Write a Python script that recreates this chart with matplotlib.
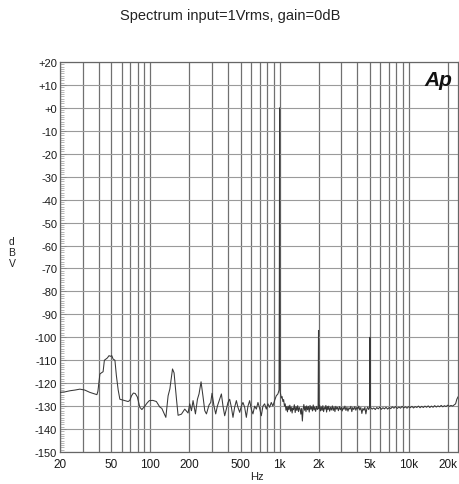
import matplotlib
matplotlib.use("Agg")
import matplotlib.pyplot as plt
from matplotlib.ticker import FixedLocator, NullFormatter, NullLocator

plt.rcParams['font.family'] = ['Liberation Sans', 'DejaVu Sans']

# ---- data ----
freq_low = [20, 21.8, 23.9, 26.1, 28.5, 31.1, 34, 37.1, 38.6, 39.3, 40.7, 41.8, 43.1, 44.1,
            45.3, 46.5, 47.9, 49.1, 50.3, 51.5, 53.2, 54.6, 56.4, 58.1, 62.4, 67.3, 69.4,
            71.5, 73.9, 76.4, 79.3, 82.9, 86, 90.6, 94.8, 98.2, 104.5, 111.3, 118.4, 122.7,
            131.8, 137.2, 141.6, 148.4, 152.6, 159.3, 163.9, 174, 184.6, 195.8, 201.8, 208,
            214, 223.3, 231.4, 238, 246.8, 255.8, 263.7, 271.6, 284.4, 293.2, 300, 310.8,
            320.4, 330, 344, 354.6, 364.8, 376, 387.6, 398.8, 410.8, 423.6, 435.8, 449, 463,
            476, 491, 506, 520.6, 536.6, 553, 569, 586.6, 604.6, 622, 641, 660.8, 680, 700.8,
            722, 743, 765.6, 789, 812, 837, 862, 887, 914.6, 942.6, 970, 990]
dbv_low = [-124, -123.8, -123.3, -123, -122.6, -123, -124, -124.7, -125, -123.5, -116, -115.5,
           -115, -110, -109.5, -109, -108, -108.3, -108, -109.5, -110, -116.7, -123, -127,
           -127.5, -128, -127.5, -125.5, -124.3, -124.5, -126, -130.5, -131.5, -130, -128.5,
           -127.6, -127.5, -128, -130.4, -131, -134.9, -125.5, -122.5, -113.8, -115.5, -127,
           -134, -133.5, -131.3, -133, -129, -132, -127.6, -133.4, -127, -124.7, -119.4, -126,
           -132, -133.4, -129.5, -128.4, -124.4, -130, -133.4, -130, -127, -124.7, -130,
           -134.2, -131.3, -128.4, -127, -130.5, -134.9, -130.5, -127.6, -130.5, -132.7, -130,
           -128.4, -130.5, -134.9, -130, -127.6, -131.5, -133.4, -130, -131.3, -128.4, -131,
           -134.2, -130, -129, -131.3, -129, -130.5, -128.4, -130, -127.6, -125.5, -124.7,
           -123]

freq_mid = [995, 1000, 1005, 1010, 1020, 1030, 1045, 1060, 1075, 1090, 1105, 1120, 1135, 1150,
            1165, 1180, 1200, 1215, 1230, 1250, 1265, 1280, 1300, 1320, 1340, 1360, 1380, 1400,
            1420, 1440, 1460, 1480, 1500, 1520, 1540, 1560, 1580, 1600, 1620, 1645, 1670, 1695,
            1720, 1745, 1770, 1795, 1820, 1845, 1870, 1900, 1930, 1960, 1985, 1995, 2000, 2005,
            2015, 2040, 2070, 2100, 2130, 2160, 2190, 2220, 2250, 2280, 2310, 2340, 2370, 2400,
            2440, 2480, 2520, 2560, 2600, 2640, 2680, 2720, 2760, 2800, 2850, 2900, 2950, 3000,
            3050, 3100, 3150, 3200, 3260, 3320, 3380, 3440, 3500, 3560, 3620, 3680, 3750, 3820,
            3890, 3960, 4030, 4100, 4170, 4250, 4330, 4410, 4490, 4570, 4650, 4730, 4810, 4890,
            4960, 4990, 5000, 5010]
dbv_mid = [-80, 0, -80, -124, -125, -126.5, -125.8, -128, -127.2, -130, -129, -131.8, -130.2,
           -132.5, -130, -131.5, -129.6, -132.2, -130.4, -133, -130.8, -131.6, -129.4, -132.8,
           -130.2, -131.9, -129.8, -132.4, -130.6, -131.2, -133.5, -131, -136.5, -131.4,
           -129.3, -131.8, -130.2, -132.4, -129.9, -131.6, -130.1, -132.6, -129.7, -131.4,
           -130.3, -132.1, -129.5, -131.7, -130.4, -132.3, -130.1, -131.5, -130.8, -112, -97,
           -112, -131.2, -129.6, -132.1, -130.3, -131.9, -129.8, -132.4, -130.6, -131.3,
           -129.7, -132.6, -130.2, -131.5, -130, -132.2, -130.5, -131.7, -129.9, -131.9,
           -130.4, -132.4, -130.1, -131.3, -130.5, -132, -130.2, -131.6, -130.4, -132.1,
           -130.6, -131.4, -130, -131.9, -130.5, -132.2, -130.7, -131.3, -130.1, -132.4,
           -130.6, -131.5, -130.2, -131.8, -130.5, -131.3, -130, -131.7, -130.6, -133.2, -131,
           -131.8, -130.5, -133.4, -131.2, -130.4, -131.5, -130.8, -118, -100, -118]

freq_high = [5040, 5200, 5350, 5500, 5650, 5800, 5960, 6120, 6300, 6480, 6660, 6850,
             7050, 7250, 7450, 7670, 7900, 8130, 8370, 8620, 8870, 9130, 9400, 9680, 9970,
             10260, 10560, 10870, 11190, 11520, 11860, 12210, 12570, 12940, 13320, 13710,
             14110, 14520, 14950, 15390, 15840, 16310, 16790, 17280, 17790, 18310, 18850,
             19400, 19970, 20560, 21160, 21780, 22420, 23000, 23500, 24000]
dbv_high = [-130.5, -131.3, -130.8, -131.5, -130.6, -131.2, -130.4, -131.4, -130.7,
            -131.2, -130.5, -131.3, -130.6, -131.1, -130.3, -130.9, -130.2, -131, -130.4,
            -130.9, -130.1, -130.8, -130.3, -130.9, -130.2, -130.7, -130.1, -130.8, -130.2,
            -130.6, -130, -130.7, -130.1, -130.6, -130, -130.5, -129.9, -130.6, -130, -130.5,
            -129.8, -130.4, -129.9, -130.3, -129.7, -130.3, -129.8, -130.2, -129.6, -130.1,
            -129.7, -130, -129.5, -129, -127, -126]

freq = freq_low + freq_mid + freq_high
dbv = dbv_low + dbv_mid + dbv_high

x_ticks = [20, 50, 100, 200, 500, 1000, 2000, 5000, 10000, 20000]
x_tick_labels = ["20", "50", "100", "200", "500", "1k", "2k", "5k", "10k", "20k"]
x_grid = [20, 30, 40, 50, 60, 70, 80, 90, 100, 200, 300, 400, 500, 600, 700, 800, 900,
          1000, 2000, 3000, 4000, 5000, 6000, 7000, 8000, 9000, 10000, 20000]
y_ticks = list(range(20, -151, -10))
y_tick_labels = ["+20", "+10", "+0"] + [str(v) for v in range(-10, -151, -10)]

# ---- figure ----
fig = plt.figure(figsize=(4.6, 4.85), dpi=100)
ax = fig.add_axes([60/460, 1 - 453/485, 398/460, 390/485])

ax.set_xscale('log')
ax.set_xlim(20, 24000)
ax.set_ylim(-150, 20)

for xv in x_grid:
    ax.axvline(xv, color='#707070', lw=0.9, zorder=1)
for yv in y_ticks:
    ax.axhline(yv, color='#9a9a9a', lw=0.8, zorder=1)

ax.plot(freq, dbv, color='#383838', lw=0.75, zorder=3)

ax.xaxis.set_major_locator(FixedLocator(x_ticks))
ax.xaxis.set_minor_locator(NullLocator())
ax.set_xticklabels(x_tick_labels)
ax.xaxis.set_minor_formatter(NullFormatter())
ax.tick_params(axis='x', which='major', length=0, pad=4, labelsize=8.5, labelcolor='#1a1a1a')

ax.yaxis.set_major_locator(FixedLocator(y_ticks))
ax.set_yticklabels(y_tick_labels)
ax.yaxis.set_minor_locator(FixedLocator(list(range(-150, 21, 1))))
ax.tick_params(axis='y', which='major', length=4, direction='in', pad=2, labelsize=8,
               labelcolor='#1a1a1a', color='#888888', width=0.6)
ax.tick_params(axis='y', which='minor', length=3, direction='in', color='#999999', width=0.5)

for s in ax.spines.values():
    s.set_color('#666666')
    s.set_linewidth(0.9)

ax.text(0.985, 0.955, "Ap", transform=ax.transAxes, ha='right', va='center',
        fontsize=15, fontweight='bold', fontstyle='italic', color='#111111', zorder=5)

fig.text(0.5, 1 - 16/485, "Spectrum input=1Vrms, gain=0dB", ha='center', va='center',
         fontsize=10.5, color='#222222')
fig.text(12/460, 1 - 253/485, "d\nB\nV", ha='center', va='center', fontsize=7.5,
         linespacing=1.1, color='#222222')
fig.text(257/460, 1 - 477/485, "Hz", ha='center', va='center', fontsize=8, color='#222222')

fig.savefig("out.png", dpi=100)
